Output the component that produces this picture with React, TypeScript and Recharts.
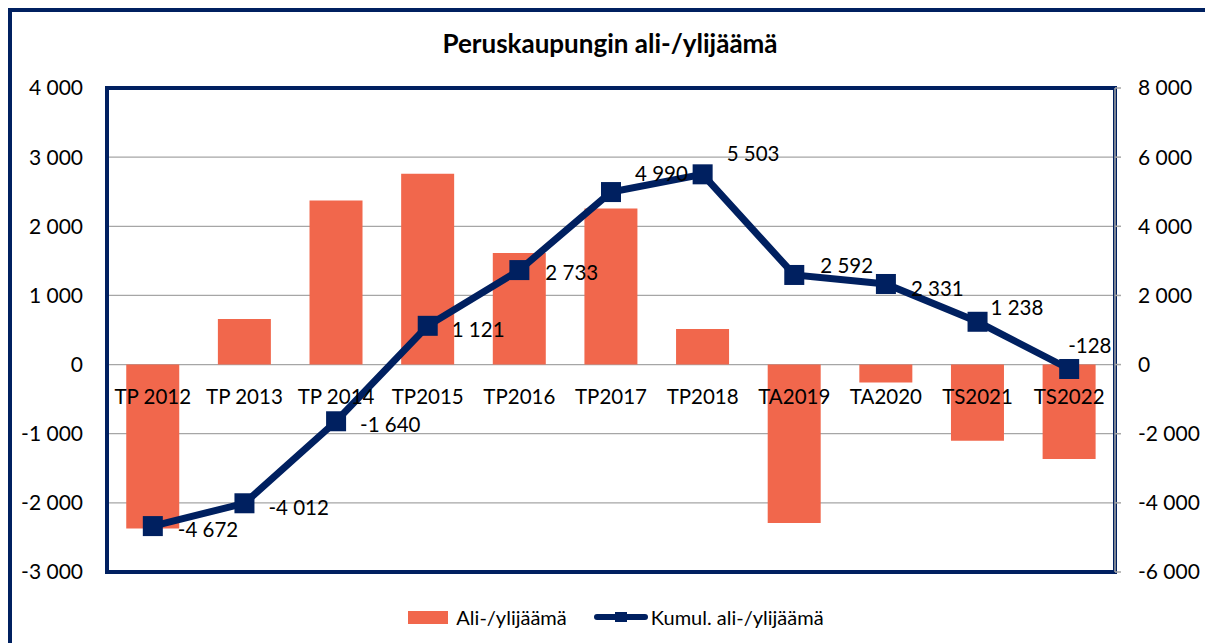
import React from "react";
import {
  ComposedChart,
  Bar,
  Line,
  XAxis,
  YAxis,
  CartesianGrid,
  ReferenceArea,
  LabelList,
  Legend,
} from "recharts";

const categories = [
  "TP 2012", "TP 2013", "TP 2014", "TP2015", "TP2016", "TP2017",
  "TP2018", "TA2019", "TA2020", "TS2021", "TS2022",
];
const annualValues = [-2370, 660, 2372, 2761, 1612, 2257, 513, -2290, -261, -1100, -1366];
const cumulativeValues = [-4672, -4012, -1640, 1121, 2733, 4990, 5503, 2592, 2331, 1238, -128];
const leftTicks = [-3000, -2000, -1000, 0, 1000, 2000, 3000, 4000];
const rightTicks = [-6000, -4000, -2000, 0, 2000, 4000, 6000, 8000];

const seriesNames = ["Ali-/ylijäämä", "Kumul. ali-/ylijäämä"];
const title = "Peruskaupungin ali-/ylijäämä";

// label nudges (style only)
const labelNudge: [number, number][] = [
  [25, 3], [24, 4], [24, 3], [24, 3], [26, 2], [24, -19],
  [24, -21], [26, -10], [25, 4], [13, -15], [-1, -24],
];

const data = categories.map((c, i) => ({
  category: c,
  annual: annualValues[i],
  cumulative: cumulativeValues[i],
  zero: 0,
}));

const NAVY = "#002060";
const BAR = "#F1674C";
const FONT = "Lato, 'Open Sans', sans-serif";

const fmt = (v: number) => {
  const s = Math.abs(Math.round(v)).toString().replace(/\B(?=(\d{3})+(?!\d))/g, " ");
  return (v < 0 ? "-" : "") + s;
};

const SquareDot = (props: any) => {
  const { cx, cy } = props;
  if (cx == null || cy == null) return null;
  const s = 20;
  return <rect x={cx - s / 2} y={cy - s / 2} width={s} height={s} fill={NAVY} />;
};

const ValueLabel = (props: any) => {
  const { x, y, value, index } = props;
  const [dx, dy] = labelNudge[index] || [24, 3];
  return (
    <text
      x={x + dx}
      y={y + dy}
      textAnchor="start"
      dominantBaseline="central"
      fontSize={20.5}
      fontFamily={FONT}
      fill="#000"
    >
      {fmt(value)}
    </text>
  );
};

const CategoryLabel = (props: any) => {
  const { x, y, value } = props;
  return (
    <text
      x={x}
      y={y + 31}
      textAnchor="middle"
      dominantBaseline="central"
      fontSize={20.5}
      fontFamily={FONT}
      fill="#000"
    >
      {value}
    </text>
  );
};

const LegendContent = () => (
  <div
    style={{
      height: 63,
      boxSizing: "border-box",
      paddingTop: 33,
      paddingLeft: 12,
      display: "flex",
      justifyContent: "center",
      alignItems: "flex-start",
      fontFamily: FONT,
      fontSize: 20,
      color: "#000",
    }}
  >
    <div style={{ display: "flex", alignItems: "center", marginRight: 27 }}>
      <div style={{ width: 40, height: 13, background: BAR, marginRight: 8 }} />
      <span>{seriesNames[0]}</span>
    </div>
    <div style={{ display: "flex", alignItems: "center" }}>
      <svg width={54} height={14} style={{ marginRight: 3 }}>
        <line x1={3} y1={7} x2={51} y2={7} stroke={NAVY} strokeWidth={6} strokeLinecap="round" />
        <rect x={21} y={2} width={12} height={10} fill={NAVY} />
      </svg>
      <span>{seriesNames[1]}</span>
    </div>
  </div>
);

const tickStyle = { fontSize: 21, fontFamily: FONT, fill: "#000" };

export default function App() {
  return (
    <div
      style={{
        position: "relative",
        width: 1196,
        height: 640,
        border: `4px solid ${NAVY}`,
        background: "#fff",
      }}
    >
      <div
        style={{
          position: "absolute",
          left: 0,
          right: 0,
          top: 15,
          textAlign: "center",
          fontFamily: FONT,
          fontWeight: 700,
          fontSize: 26,
          color: "#000",
        }}
      >
        {title}
      </div>
      <ComposedChart
        width={1196}
        height={631}
        data={data}
        margin={{ top: 76, right: 0, bottom: 8, left: 0 }}
        barCategoryGap="21%"
      >
        <CartesianGrid yAxisId="left" vertical={false} stroke="#A6A6A6" strokeWidth={1.3} />
        <XAxis dataKey="category" hide />
        <YAxis
          yAxisId="left"
          orientation="left"
          domain={[-3000, 4000]}
          ticks={leftTicks}
          tickFormatter={fmt}
          width={95}
          axisLine={false}
          tickLine={false}
          tickSize={6}
          tickMargin={18}
          tick={tickStyle}
          interval={0}
        />
        <YAxis
          yAxisId="right"
          orientation="right"
          domain={[-6000, 8000]}
          ticks={rightTicks}
          tickFormatter={fmt}
          width={93}
          axisLine={{ stroke: "#A6A6A6", strokeWidth: 1.5 }}
          tickLine={{ stroke: "#A6A6A6", strokeWidth: 1.5 }}
          tickSize={6}
          tickMargin={17}
          tick={{ ...tickStyle, textAnchor: "start" }}
          interval={0}
        />
        <Bar
          yAxisId="left"
          dataKey="annual"
          name={seriesNames[0]}
          fill={BAR}
          isAnimationActive={false}
        />
        <Line
          yAxisId="left"
          dataKey="zero"
          stroke="none"
          dot={false}
          activeDot={false}
          legendType="none"
          isAnimationActive={false}
        >
          <LabelList dataKey="category" content={CategoryLabel} />
        </Line>
        <ReferenceArea
          yAxisId="left"
          y1={-3000}
          y2={4000}
          fill="none"
          stroke={NAVY}
          strokeWidth={4}
          ifOverflow="visible"
        />
        <Line
          yAxisId="right"
          dataKey="cumulative"
          name={seriesNames[1]}
          stroke={NAVY}
          strokeWidth={7}
          dot={<SquareDot />}
          activeDot={false}
          isAnimationActive={false}
        >
          <LabelList dataKey="cumulative" content={ValueLabel} />
        </Line>
        <Legend verticalAlign="bottom" content={LegendContent} />
      </ComposedChart>
    </div>
  );
}
